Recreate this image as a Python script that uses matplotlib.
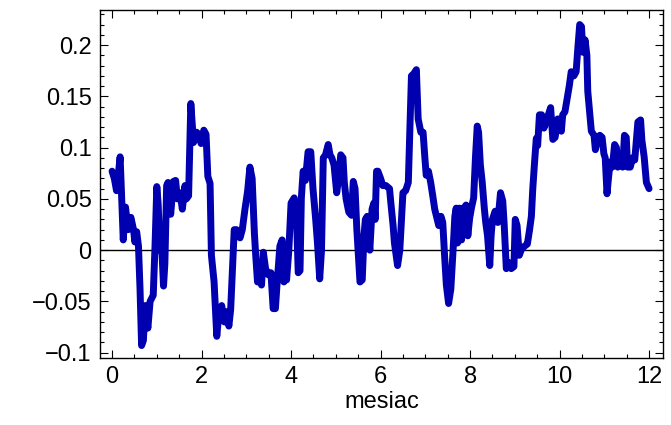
import matplotlib.pyplot as plt
from matplotlib import ticker

# values (x in months)
month = [
    0.00, 0.05, 0.10, 0.15, 0.18, 0.22, 0.25, 0.30, 0.36, 0.42, 0.48, 0.51,
    0.55, 0.59, 0.625, 0.66, 0.70, 0.74, 0.80, 0.85, 0.92, 0.96, 1.00, 1.03,
    1.07, 1.10, 1.15, 1.18, 1.22, 1.25, 1.31, 1.37, 1.42, 1.46, 1.52, 1.57,
    1.63, 1.66, 1.71, 1.76, 1.82, 1.89, 1.93, 1.99, 2.05, 2.10, 2.14, 2.19,
    2.22, 2.28, 2.34, 2.39, 2.45, 2.51, 2.56, 2.61, 2.65, 2.69, 2.73, 2.78,
    2.86, 2.91, 2.97, 3.03, 3.08, 3.13, 3.18, 3.21, 3.25, 3.30, 3.34, 3.38,
    3.43, 3.49, 3.55, 3.60, 3.65, 3.69, 3.75, 3.80, 3.84, 3.87, 3.90, 3.95,
    4.00, 4.07, 4.12, 4.16, 4.20, 4.23, 4.27, 4.32, 4.38, 4.44, 4.49, 4.55,
    4.59, 4.64, 4.68, 4.72, 4.77, 4.83, 4.87, 4.91, 4.96, 5.02, 5.07, 5.11,
    5.16, 5.19, 5.23, 5.29, 5.35, 5.39, 5.43, 5.47, 5.54, 5.59, 5.63, 5.66,
    5.70, 5.76, 5.81, 5.85, 5.88, 5.91, 5.94, 6.00, 6.05, 6.12, 6.20, 6.23,
    6.28, 6.31, 6.38, 6.43, 6.47, 6.50, 6.56, 6.62, 6.65, 6.69, 6.74, 6.80,
    6.84, 6.90, 6.95, 6.99, 7.02, 7.07, 7.12, 7.17, 7.21, 7.25, 7.30, 7.35,
    7.39, 7.43, 7.47, 7.52, 7.57, 7.62, 7.66, 7.69, 7.72, 7.76, 7.81, 7.86,
    7.91, 7.95, 7.99, 8.03, 8.08, 8.12, 8.16, 8.19, 8.23, 8.27, 8.32, 8.35,
    8.39, 8.44, 8.47, 8.50, 8.56, 8.62, 8.68, 8.73, 8.76, 8.81, 8.86, 8.92,
    8.98, 9.01, 9.05, 9.10, 9.15, 9.22, 9.28, 9.33, 9.37, 9.40, 9.44, 9.48,
    9.51, 9.55, 9.60, 9.65, 9.70, 9.75, 9.80, 9.85, 9.90, 9.96, 10.00, 10.04,
    10.07, 10.12, 10.17, 10.22, 10.26, 10.32, 10.37, 10.41, 10.45, 10.49,
    10.52, 10.57, 10.61, 10.63, 10.67, 10.71, 10.77, 10.80, 10.85, 10.90,
    10.95, 10.99, 11.02, 11.06, 11.09, 11.13, 11.18, 11.23, 11.27, 11.30,
    11.36, 11.41, 11.45, 11.49, 11.52, 11.58, 11.63, 11.68, 11.75, 11.81,
    11.84, 11.89, 11.94, 12.00,
]
value = [
    0.077, 0.070, 0.058, 0.078, 0.091, 0.045, 0.010, 0.042, 0.020, 0.032, 0.020, 0.008,
    0.018, 0.004, -0.038, -0.093, -0.088, -0.054, -0.076, -0.050, -0.044, 0.004, 0.062, 0.045,
    0.000, 0.012, -0.035, -0.013, 0.063, 0.066, 0.035, 0.067, 0.068, 0.050, 0.056, 0.040,
    0.063, 0.050, 0.053, 0.143, 0.105, 0.115, 0.113, 0.104, 0.117, 0.113, 0.072, 0.065,
    -0.005, -0.031, -0.084, -0.060, -0.054, -0.070, -0.060, -0.074, -0.058, -0.018, 0.020, 0.020,
    0.012, 0.020, 0.040, 0.058, 0.081, 0.070, 0.017, -0.005, -0.031, -0.012, -0.034, -0.002,
    -0.018, -0.024, -0.022, -0.057, -0.057, -0.031, 0.004, 0.010, -0.031, -0.005, -0.029, 0.000,
    0.046, 0.051, 0.034, -0.022, -0.020, 0.051, 0.077, 0.068, 0.096, 0.096, 0.060, 0.030,
    0.007, -0.028, 0.000, 0.090, 0.093, 0.103, 0.093, 0.090, 0.083, 0.056, 0.073, 0.093,
    0.090, 0.066, 0.050, 0.037, 0.034, 0.067, 0.060, 0.020, -0.031, -0.029, 0.014, 0.030,
    0.033, 0.000, 0.040, 0.046, 0.030, 0.077, 0.077, 0.070, 0.063, 0.063, 0.060, 0.046,
    0.024, 0.007, -0.015, 0.000, 0.033, 0.056, 0.058, 0.066, 0.112, 0.170, 0.172, 0.176,
    0.128, 0.115, 0.115, 0.090, 0.073, 0.077, 0.066, 0.052, 0.040, 0.033, 0.024, 0.033,
    0.027, -0.005, -0.034, -0.052, -0.038, 0.000, 0.033, 0.041, 0.007, 0.041, 0.010, 0.041,
    0.044, 0.014, 0.031, 0.041, 0.051, 0.090, 0.121, 0.115, 0.083, 0.067, 0.040, 0.027,
    0.014, -0.015, 0.014, 0.030, 0.038, 0.027, 0.056, 0.048, 0.027, -0.018, -0.012, -0.018,
    -0.016, 0.030, 0.024, -0.005, 0.001, 0.004, 0.006, 0.020, 0.033, 0.059, 0.085, 0.109,
    0.102, 0.132, 0.132, 0.119, 0.125, 0.132, 0.139, 0.108, 0.110, 0.128, 0.125, 0.116,
    0.132, 0.135, 0.148, 0.161, 0.174, 0.170, 0.174, 0.198, 0.220, 0.218,
    0.193, 0.205, 0.190, 0.155, 0.135, 0.116, 0.112, 0.098, 0.109, 0.112,
    0.110, 0.094, 0.090, 0.055, 0.069, 0.086, 0.081, 0.103, 0.100, 0.081,
    0.093, 0.081, 0.112, 0.110, 0.081, 0.081, 0.090, 0.088, 0.125, 0.127,
    0.107, 0.091, 0.066, 0.060,
]

y_ticks = [-0.1, -0.05, 0, 0.05, 0.1, 0.15, 0.2]
x_ticks = [0, 2, 4, 6, 8, 10, 12]


def fmt(v, pos=None):
    s = f"{abs(v):.2f}".rstrip("0").rstrip(".")
    if s == "":
        s = "0"
    return ("\u2212" + s) if v < -1e-9 else s


plt.rcParams["font.family"] = ["Liberation Sans", "DejaVu Sans"]

fig = plt.figure(figsize=(6.71, 4.25), dpi=100)
ax = fig.add_axes([0.149, 0.158, 0.839, 0.818])

ax.axhline(0, color="black", lw=1.0, zorder=1)
ax.plot(month, value, color="#0000b0", lw=5.0,
        solid_joinstyle="round", solid_capstyle="round", zorder=2)

ax.set_xlim(-0.27, 12.31)
ax.set_ylim(-0.105, 0.234)
ax.set_xticks(x_ticks)
ax.set_yticks(y_ticks)
ax.xaxis.set_minor_locator(ticker.MultipleLocator(0.5))
ax.yaxis.set_minor_locator(ticker.MultipleLocator(0.01))
ax.yaxis.set_major_formatter(ticker.FuncFormatter(fmt))
ax.xaxis.set_major_formatter(ticker.FuncFormatter(lambda v, p: f"{v:g}"))

ax.tick_params(which="both", direction="in", top=True, right=True, labelsize=17, width=0.8)
ax.tick_params(which="major", length=6, pad=6)
ax.tick_params(which="minor", length=3)
for sp in ax.spines.values():
    sp.set_linewidth(1.0)

ax.set_xlabel("mesiac", fontsize=17, labelpad=2)

fig.savefig("out.png", dpi=100)
